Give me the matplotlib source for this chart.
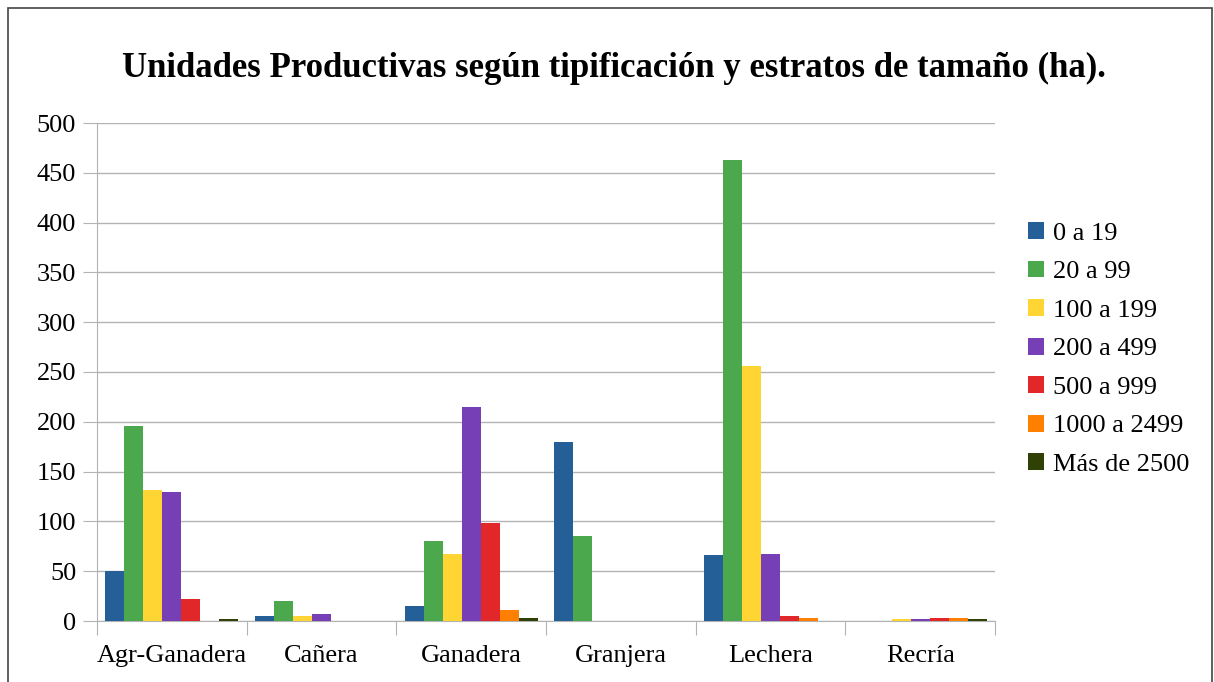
import matplotlib.pyplot as plt
import numpy as np
from matplotlib.patches import Rectangle

categorias = ["Agr-Ganadera", "Cañera", "Ganadera", "Granjera", "Lechera", "Recría"]
estratos = ["0 a 19", "20 a 99", "100 a 199", "200 a 499", "500 a 999", "1000 a 2499", "Más de 2500"]

v_0_19 = [50, 5, 15, 180, 66, 0]
v_20_99 = [196, 20, 80, 85, 463, 0]
v_100_199 = [132, 5, 67, 0, 256, 2]
v_200_499 = [130, 7, 215, 0, 67, 2]
v_500_999 = [22, 0, 98, 0, 5, 3]
v_1000_2499 = [0, 0, 11, 0, 3, 3]
v_mas_2500 = [2, 0, 3, 0, 0, 2]

series = [v_0_19, v_20_99, v_100_199, v_200_499, v_500_999, v_1000_2499, v_mas_2500]
colores = ["#245f97", "#4ca84c", "#ffd533", "#773fb5", "#e2272a", "#ff8000", "#2f4105"]

plt.rcParams['font.family'] = ['Liberation Serif', 'DejaVu Serif']

fig = plt.figure(figsize=(12.14, 6.82), dpi=100)
ax = fig.add_axes([97 / 1214, 1 - 621 / 682, 898 / 1214, 498 / 682])

x = np.arange(len(categorias))
ancho = 0.127
for i, (vals, col, nom) in enumerate(zip(series, colores, estratos)):
    ax.bar(x + (i - 3) * ancho, vals, ancho, color=col, label=nom, zorder=3)

ax.set_xlim(-0.5, 5.5)
ax.set_ylim(0, 500)
ax.set_yticks(range(0, 501, 50))
ax.set_xticks(np.arange(-0.5, 6, 1))
ax.set_xticklabels([])
ax.set_xticks(x, minor=True)
ax.set_xticklabels(categorias, minor=True)
ax.tick_params(axis='x', which='minor', length=0, pad=17, labelsize=19)
ax.tick_params(axis='x', which='major', length=10, color='#b3b3b3')
ax.tick_params(axis='y', length=10, color='#b3b3b3', labelsize=19, pad=5)
ax.grid(axis='y', color='#b3b3b3', linewidth=1, zorder=0)
for s in ['top', 'right']:
    ax.spines[s].set_visible(False)
for s in ['left', 'bottom']:
    ax.spines[s].set_color('#b3b3b3')

ax.legend(loc='center left', bbox_to_anchor=(1.01, 0.546), frameon=False,
          fontsize=19, handlelength=0.6, handleheight=0.6, labelspacing=0.6,
          handletextpad=0.35)

fig.text(0.506, 1 - 68 / 682, "Unidades Productivas según tipificación y estratos de tamaño (ha).",
         ha='center', va='center', fontsize=25, fontweight='bold')

fig.patches.append(Rectangle((8 / 1214, -0.1), 1204 / 1214, 1.1 - 8 / 682,
                             transform=fig.transFigure, fill=False,
                             edgecolor='#444444', linewidth=1.2))

fig.savefig("out.png", dpi=100)
